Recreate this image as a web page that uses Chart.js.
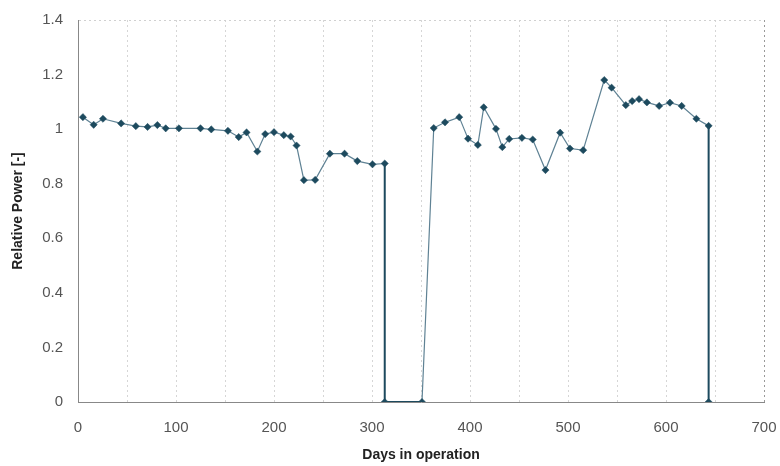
<!DOCTYPE html>
<html>
<head>
<meta charset="utf-8">
<script src="https://cdn.jsdelivr.net/npm/chart.js@4/dist/chart.umd.min.js"></script>
<style>
  html, body { margin: 0; padding: 0; background: #fff; }
  #wrap { width: 780px; height: 466px; }
</style>
</head>
<body>
<div id="wrap"><canvas id="myChart"></canvas></div>
<script>
// days in operation and relative power
const days = [5, 16, 25.5, 44, 59, 71, 81, 89.5, 103, 125, 136, 153, 164, 172, 183, 191, 200, 210, 217, 223, 230.5, 242, 257, 272, 285, 300.5, 313,
  313, 351,
  363, 374.5, 389, 398, 408, 414, 426.5, 433, 440, 453, 464, 477, 492, 502, 515.5, 537, 544.5, 559, 565.5, 572.5, 580.5, 593, 604, 616, 631, 643.5,
  643.5]
const power = [1.044, 1.016, 1.038, 1.021, 1.011, 1.008, 1.015, 1.003, 1.003, 1.003, 0.999, 0.994, 0.971, 0.988, 0.918, 0.982, 0.989, 0.978, 0.973, 0.940, 0.813, 0.814, 0.910, 0.910, 0.883, 0.871, 0.874,
  0, 0,
  1.004, 1.025, 1.044, 0.965, 0.942, 1.080, 1.001, 0.934, 0.964, 0.968, 0.962, 0.850, 0.987, 0.929, 0.923, 1.180, 1.152, 1.088, 1.103, 1.110, 1.098, 1.085, 1.097, 1.085, 1.038, 1.012,
  0]
const xTicks = [0, 100, 200, 300, 400, 500, 600, 700]
const yTicks = [0, 0.2, 0.4, 0.6, 0.8, 1, 1.2, 1.4]

const points = []
for (i = 0; i < days.length; i++) {
    points.push({ x: days[i], y: power[i] })
}

const dark = '#1d4a5e'
const tickFont = { family: 'Liberation Sans, Arial, sans-serif', size: 15 }
const titleFont = { family: 'Liberation Sans, Arial, sans-serif', size: 14, weight: 'bold' }

// segments that drop to zero / stay at zero are drawn darker
function isDrop(ctx) {
    return ctx.p0.parsed.x === ctx.p1.parsed.x || (ctx.p0.parsed.y === 0 && ctx.p1.parsed.y === 0)
}

var ctx = document.getElementById('myChart').getContext('2d');
var chart = new Chart(ctx, {
    type: 'scatter',
    data: {
        datasets: [{
            label: 'Relative Power',
            data: points,
            showLine: true,
            borderColor: '#5f8294',
            borderWidth: 1.2,
            pointStyle: 'rectRot',
            pointRadius: 3.6,
            pointBackgroundColor: dark,
            pointBorderColor: dark,
            pointBorderWidth: 0.5,
            segment: {
                borderColor: c => isDrop(c) ? dark : undefined,
                borderWidth: c => isDrop(c) ? 2 : undefined
            }
        }]
    },
    options: {
        responsive: true,
        maintainAspectRatio: false,
        animation: false,
        layout: { padding: { left: 10, right: 16, top: 20, bottom: 0 } },
        plugins: {
            legend: { display: false },
            tooltip: { enabled: false }
        },
        scales: {
            x: {
                type: 'linear',
                min: 0,
                max: 700,
                afterBuildTicks: s => {
                    const t = []
                    for (let v = 0; v <= 700; v += 50) t.push({ value: v })
                    s.ticks = t
                },
                afterFit: s => {
                    s.height = 64
                    s.paddingLeft = 0
                    s.paddingRight = 0
                },
                ticks: {
                    autoSkip: false,
                    maxRotation: 0,
                    padding: 17,
                    color: '#555',
                    font: tickFont,
                    callback: v => xTicks.includes(v) ? String(v) : ''
                },
                grid: {
                    drawTicks: false,
                    color: c => c.tick && c.tick.value === 0 ? 'rgba(0,0,0,0)' : (c.tick && c.tick.value === 700 ? '#999' : '#d6d6d6'),
                    lineWidth: 1
                },
                border: { display: true, color: '#888', width: 1, dash: [2, 3] },
                title: {
                    display: true,
                    text: 'Days in operation',
                    color: '#222',
                    font: titleFont,
                    padding: { top: 4, bottom: 2 }
                }
            },
            y: {
                min: 0,
                max: 1.4,
                afterBuildTicks: s => { s.ticks = yTicks.map(v => ({ value: v })) },
                afterFit: s => {
                    s.width = 68
                    s.paddingTop = 0
                    s.paddingBottom = 0
                },
                ticks: {
                    padding: 15,
                    color: '#555',
                    font: tickFont,
                    callback: v => String(Math.round(v * 10) / 10)
                },
                grid: {
                    drawTicks: false,
                    color: c => c.tick && c.tick.value === 1.4 ? '#d0d0d0' : 'rgba(0,0,0,0)',
                    lineWidth: 1
                },
                border: { display: true, color: '#888', width: 1, dash: [2, 3] },
                title: {
                    display: true,
                    text: 'Relative Power [-]',
                    color: '#222',
                    font: titleFont,
                    padding: { top: 0, bottom: 4 }
                }
            }
        }
    }
});
</script>
</body>
</html>
